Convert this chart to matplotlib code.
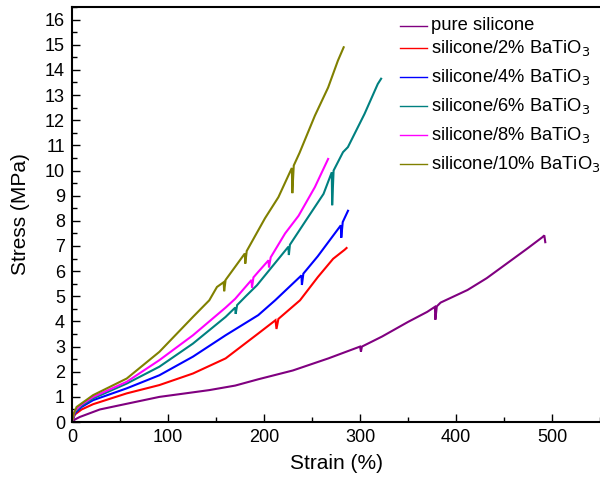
import matplotlib
matplotlib.use("Agg")
import matplotlib.pyplot as plt
from matplotlib.ticker import MultipleLocator
from matplotlib.lines import Line2D

plt.rcParams['font.family'] = ['Liberation Sans', 'DejaVu Sans']

# Stress-strain curves (strain in %, stress in MPa)
pure_strain = [0, 3, 8, 29, 50, 91, 120, 143, 170, 194, 230, 267, 300, 301, 302, 323, 350, 370,
               378, 378.5, 380, 384, 412, 432, 460, 474, 490, 492, 493]
pure_stress = [0, 0.1, 0.2, 0.5, 0.67, 1.0, 1.15, 1.27, 1.45, 1.7, 2.05, 2.53, 3.0, 2.8, 3.0, 3.4,
               3.98, 4.38, 4.58, 4.07, 4.6, 4.75, 5.25, 5.72, 6.5, 6.89, 7.35, 7.42, 7.15]

bt2_strain = [0, 3, 10, 22, 57, 91, 126, 160, 194, 212, 213, 215, 237.5, 256, 272, 284, 286]
bt2_stress = [0, 0.3, 0.5, 0.71, 1.14, 1.47, 1.93, 2.53, 3.52, 4.05, 3.7, 4.1, 4.84, 5.76, 6.49,
              6.85, 6.92]

bt4_strain = [0, 3, 10, 22, 57, 91, 126, 160, 194, 211.6, 239, 239.5, 241, 256, 280, 280.5, 282,
              287.5]
bt4_stress = [0, 0.35, 0.6, 0.87, 1.34, 1.86, 2.6, 3.45, 4.25, 4.84, 5.83, 5.45, 5.9, 6.59, 7.82,
              7.33, 7.95, 8.4]

bt6_strain = [0, 3, 10, 22, 57, 91, 126, 160, 170, 170.5, 172, 181, 192.7, 225.4, 225.9, 227, 246,
              262, 270.6, 271, 272.5, 282.3, 287.4, 304.7, 318.5, 322]
bt6_stress = [0, 0.4, 0.65, 0.94, 1.53, 2.2, 3.12, 4.18, 4.55, 4.3, 4.65, 5.0, 5.44, 6.97, 6.64,
              7.05, 8.15, 9.07, 9.93, 8.62, 10.0, 10.73, 10.93, 12.25, 13.44, 13.65]

bt8_strain = [0, 3, 10, 22, 57, 91, 126, 160, 170, 187, 187.5, 189, 194, 204.7, 205.2, 207, 222, 236,
              253, 266.8]
bt8_stress = [0, 0.45, 0.7, 1.0, 1.6, 2.46, 3.45, 4.55, 4.9, 5.65, 5.35, 5.75, 5.97, 6.43, 6.15,
              6.55, 7.5, 8.2, 9.34, 10.46]

bt10_strain = [0, 2, 4.8, 22, 57, 91, 126, 143, 151, 158, 158.5, 160, 180, 180.5, 182, 201, 215,
               229, 229.5, 231, 237, 253, 266.8, 277, 283]
bt10_stress = [0, 0.35, 0.6, 1.07, 1.73, 2.79, 4.18, 4.84, 5.37, 5.56, 5.2, 5.65, 6.7, 6.3, 6.8,
               8.1, 8.94, 10.1, 9.1, 10.2, 10.7, 12.18, 13.3, 14.37, 14.9]

labels = ["pure silicone", "silicone/2% BaTiO$_3$", "silicone/4% BaTiO$_3$",
          "silicone/6% BaTiO$_3$", "silicone/8% BaTiO$_3$", "silicone/10% BaTiO$_3$"]
colors = ["#800080", "#FF0000", "#0000FF", "#008080", "#FF00FF", "#808000"]
series = [(pure_strain, pure_stress), (bt2_strain, bt2_stress), (bt4_strain, bt4_stress),
          (bt6_strain, bt6_stress), (bt8_strain, bt8_stress), (bt10_strain, bt10_stress)]

fig = plt.figure(figsize=(6.0, 4.84), dpi=100)
ax = fig.add_axes([0.12, 0.128, 0.88, 0.8575])

for (xs, ys), c in zip(series, colors):
    ax.plot(xs, ys, color=c, lw=1.5, solid_joinstyle='miter')

ax.set_xlim(0, 550)
ax.set_ylim(0, 16.5)
ax.xaxis.set_major_locator(MultipleLocator(100))
ax.xaxis.set_minor_locator(MultipleLocator(50))
ax.yaxis.set_major_locator(MultipleLocator(1))
ax.yaxis.set_minor_locator(MultipleLocator(0.5))
ax.tick_params(which='both', direction='in', top=False, right=False, width=1.0,
               labelsize=13, pad=5)
ax.tick_params(which='major', length=6)
ax.tick_params(which='minor', length=3.5)
for s in ax.spines.values():
    s.set_linewidth(1.5)
ax.spines['right'].set_visible(False)

ax.set_xlabel("Strain (%)", fontsize=15, labelpad=6)
ax.set_ylabel("Stress (MPa)", fontsize=15, labelpad=11)

# Legend entries drawn as short lines with text beside them
entry_y = [26, 48, 77, 106, 135, 164]
for lab, c, yp in zip(labels, colors, entry_y):
    yf = 1 - yp / 484
    fig.add_artist(Line2D([400 / 600, 427 / 600], [yf, yf], color=c, lw=1.0,
                          transform=fig.transFigure))
    fig.text(431 / 600, yf, lab, fontsize=13.2, va='center', ha='left')

fig.savefig("out.png", dpi=100)
